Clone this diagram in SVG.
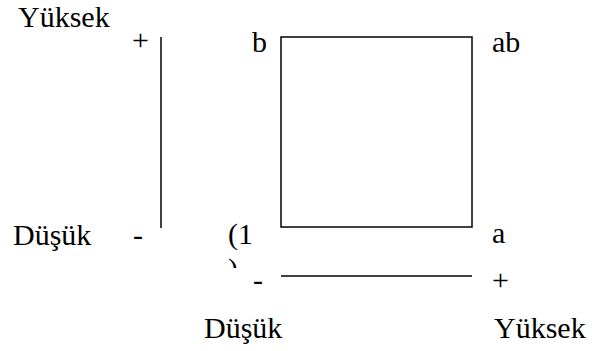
<svg xmlns="http://www.w3.org/2000/svg" width="592" height="351" viewBox="0 0 592 351">
<style>
  text { font-family: 'Liberation Serif', 'DejaVu Serif', serif; font-size: 30px; fill: #000; }
  .ln { stroke: #000; stroke-width: 1.5; fill: none; }
</style>
<defs>
  <clipPath id="clipParen"><rect x="220" y="255" width="20" height="13"/></clipPath>
</defs>
<rect width="592" height="351" fill="#fff"/>
<g id="axis-y" font-family="Liberation Serif">
  <text x="18" y="27">Yüksek</text>
  <text x="132" y="50">+</text>
  <text x="13" y="245">Düşük</text>
  <text x="133" y="245">-</text>
</g>
<g id="axis-x" font-family="Liberation Serif">
  <text x="253" y="290">-</text>
  <text x="492" y="290">+</text>
  <text x="204" y="338">Düşük</text>
  <text x="494" y="338">Yüksek</text>
</g>
<g id="corners" font-family="Liberation Serif">
  <text x="252" y="52">b</text>
  <text x="492" y="52">ab</text>
  <text x="228" y="244">(1</text>
  <text x="228" y="279" clip-path="url(#clipParen)">)</text>
  <text x="492" y="243">a</text>
</g>
<g id="square">
  <rect class="ln" x="281" y="37" width="191" height="190"/>
</g>
<g id="connectors">
  <line class="ln" x1="161" y1="37" x2="161" y2="228"/>
  <line class="ln" x1="281" y1="276" x2="472" y2="276"/>
</g>
</svg>
